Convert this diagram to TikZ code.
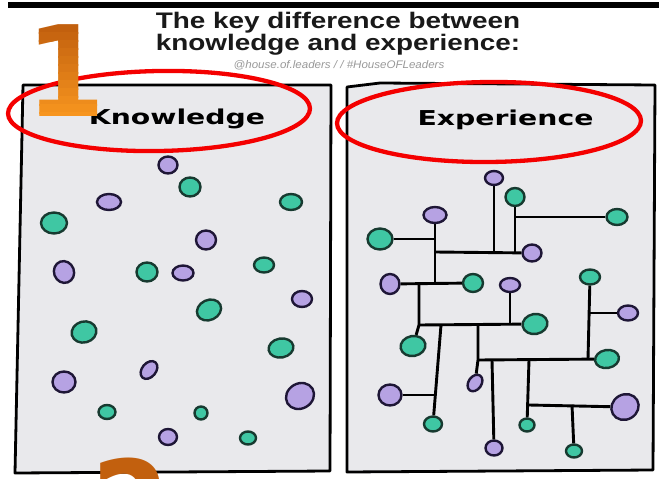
\documentclass[tikz,border=0pt]{standalone}
\usepackage{fontspec}
\setmainfont{Liberation Sans}
\newfontfamily\roundfont{DejaVu Sans}
\usepackage{tikz}
\usetikzlibrary{shapes}
\definecolor{panelgray}{HTML}{E9E9EC}
\definecolor{tealfill}{HTML}{3FC7A3}
\definecolor{tealline}{HTML}{173A30}
\definecolor{lilac}{HTML}{B6A2E3}
\definecolor{lilacline}{HTML}{1E1636}
\definecolor{ringred}{HTML}{F40000}
\definecolor{numdark}{HTML}{C2600E}
\definecolor{numlight}{HTML}{F8961F}
\tikzstyle{panel} = [draw, line width=2.8pt, fill=panelgray, line join=round]
\tikzstyle{blob} = [ellipse, draw, line width=2.4pt, inner sep=0pt]
\tikzstyle{tdot} = [blob, fill=tealfill, draw=tealline]
\tikzstyle{pdot} = [blob, fill=lilac, draw=lilacline]
\tikzstyle{wire} = [draw, line width=2.9pt]
\tikzstyle{ring} = [draw=ringred, line width=4.3pt, ellipse, inner sep=0pt]
\tikzstyle{numeral} = [anchor=base, inner sep=0pt, font=\roundfont\bfseries\fontsize{126}{130}\selectfont, xscale=0.9]
\tikzset{sz/.style 2 args={minimum width=#1pt, minimum height=#2pt}}

\begin{document}
\begin{tikzpicture}[x=1pt,y=-1pt]

	\clip (0,0) rectangle (659,479);
	\fill[white] (0,0) rectangle (659,479);

	% header
	\fill[black] (8,2) rectangle (659,8);
	\node[anchor=base, inner sep=0pt, font=\bfseries\fontsize{22.5}{27}\selectfont, xscale=1.24, text=black!90] (title1) at (338,28) {The key difference between};
	\node[anchor=base, inner sep=0pt, font=\bfseries\fontsize{22.5}{27}\selectfont, xscale=1.24, text=black!90] (title2) at (338,50) {knowledge and experience:};
	\node[anchor=base, inner sep=0pt, font=\itshape\fontsize{11}{13}\selectfont, xscale=1.05, text=black!40] (tag) at (339,68) {@house.of.leaders / / \#HouseOFLeaders};

	% panels
	\draw[panel] (23,85) -- (331,85) -- (330,471) -- (15,473) -- cycle;
	\draw[panel] (347,87) -- (380,83) -- (655,85) -- (653,470) -- (347,472) -- cycle;
	\node[anchor=base, inner sep=0pt, font=\roundfont\bfseries\fontsize{20.5}{24}\selectfont, xscale=1.38] (know) at (177,124) {Knowledge};
	\node[anchor=base, inner sep=0pt, font=\roundfont\bfseries\fontsize{20.5}{24}\selectfont, xscale=1.38] (exp) at (505.5,125) {Experience};

	% nodes: knowledge
	\node[pdot, sz={19}{17}] (k1) at (168,165) {};
	\node[tdot, sz={21}{19}] (k2) at (190,187) {};
	\node[pdot, sz={24}{16}] (k3) at (109,202) {};
	\node[tdot, sz={22}{16}] (k4) at (291,202) {};
	\node[tdot, sz={26}{21}] (k5) at (54,223) {};
	\node[pdot, sz={20}{19}] (k6) at (206,240) {};
	\node[pdot, sz={20}{22}, rotate=20] (k7) at (64,272) {};
	\node[tdot, sz={21}{19}] (k8) at (147,272) {};
	\node[pdot, sz={21}{15}] (k9) at (183,273) {};
	\node[tdot, sz={20}{15}] (k10) at (264,265) {};
	\node[pdot, sz={20}{16}] (k11) at (302,299) {};
	\node[tdot, sz={25}{20}, rotate=25] (k12) at (209,310) {};
	\node[tdot, sz={25}{21}, rotate=15] (k13) at (84,332) {};
	\node[tdot, sz={25}{19}, rotate=10] (k14) at (281,348) {};
	\node[pdot, sz={23}{21}] (k15) at (64,382) {};
	\node[pdot, sz={20}{14}, rotate=50] (k16) at (149,370) {};
	\node[pdot, sz={29}{25}, rotate=30] (k17) at (300,396) {};
	\node[tdot, sz={17}{14}] (k18) at (107,412) {};
	\node[tdot, sz={13}{13}] (k19) at (201,413) {};
	\node[pdot, sz={18}{16}] (k20) at (168,437) {};
	\node[tdot, sz={16}{13}] (k21) at (248,438) {};

	% nodes: experience
	\node[pdot, sz={18}{14}] (x1) at (494,178) {};
	\node[tdot, sz={19}{18}] (x2) at (515,197) {};
	\node[tdot, sz={21}{16}] (x3) at (617,217) {};
	\node[pdot, sz={23}{16}] (x4) at (435,215) {};
	\node[tdot, sz={25}{21}] (x5) at (380,239) {};
	\node[pdot, sz={19}{17}] (x6) at (532,253) {};
	\node[pdot, sz={19}{20}] (x7) at (390,284) {};
	\node[tdot, sz={20}{18}] (x8) at (473,283) {};
	\node[pdot, sz={20}{14}] (x9) at (510,285) {};
	\node[tdot, sz={20}{15}] (x10) at (590,277) {};
	\node[pdot, sz={20}{15}] (x11) at (628,313) {};
	\node[tdot, sz={25}{20}, rotate=10] (x12) at (535,324) {};
	\node[tdot, sz={25}{20}, rotate=10] (x13) at (413,346) {};
	\node[tdot, sz={24}{18}, rotate=10] (x14) at (607,359) {};
	\node[pdot, sz={18}{13}, rotate=55] (x15) at (475,383) {};
	\node[pdot, sz={23}{21}] (x16) at (390,395) {};
	\node[pdot, sz={28}{25}, rotate=30] (x17) at (625,407) {};
	\node[tdot, sz={18}{15}] (x18) at (433,424) {};
	\node[tdot, sz={15}{13}] (x19) at (527,425) {};
	\node[pdot, sz={17}{15}] (x20) at (494,448) {};
	\node[tdot, sz={16}{13}] (x21) at (574,451) {};

	% junctions
	\coordinate (j0) at (435,252);
	\coordinate (j1) at (494,252);
	\coordinate (j2) at (515,252);
	\coordinate (j3) at (515,217);
	\coordinate (j4) at (435,283);
	\coordinate (j5) at (435,239);
	\coordinate (j6) at (419,283);
	\coordinate (j7) at (419,325);
	\coordinate (j8) at (441,325);
	\coordinate (j9) at (478,325);
	\coordinate (j10) at (510,325);
	\coordinate (j11) at (435.5,395);
	\coordinate (j12) at (478,360);
	\coordinate (j13) at (492,360);
	\coordinate (j14) at (529,360);
	\coordinate (j15) at (529,405);
	\coordinate (j16) at (572,405);
	\coordinate (j17) at (588,359);
	\coordinate (j18) at (588,313);

	% links
	\draw[wire] (x1) -- (j1);
	\draw[wire] (j0) -- (x6);
	\draw[wire] (x2) -- (j2);
	\draw[wire] (j3) -- (x3);
	\draw[wire] (x4) -- (j4);
	\draw[wire] (x5) -- (j5);
	\draw[wire] (x7) -- (x8);
	\draw[wire] (j6) -- (j7) -- (x13);
	\draw[wire] (j7) -- (x12);
	\draw[wire] (x9) -- (j10);
	\draw[wire] (j8) -- (x18);
	\draw[wire] (x16) -- (j11);
	\draw[wire] (j9) -- (j12) -- (x15);
	\draw[wire] (j12) -- (x14);
	\draw[wire] (j13) -- (x20);
	\draw[wire] (j14) -- (x19);
	\draw[wire] (j15) -- (x17);
	\draw[wire] (j16) -- (x21);
	\draw[wire] (x10) -- (j17);
	\draw[wire] (j18) -- (x11);

	% red marks
	\node[ring, sz={302}{80}, rotate=1] (ringK) at (159,111) {};
	\node[ring, sz={304}{80}, rotate=0.5] (ringE) at (489,122) {};

	% numbers
	\foreach \i in {0,...,11} {
		\pgfmathtruncatemacro\pct{100-\i*9}
		\begin{scope}
			\clip (20,{24+\i*8}) rectangle (112,{33+\i*8});
			\node[numeral, text=numdark!\pct!numlight] (one\i) at (66,116) {1};
		\end{scope}
	}
	\node[numeral, text=numdark] (two) at (131,551) {2};

\end{tikzpicture}
\end{document}
